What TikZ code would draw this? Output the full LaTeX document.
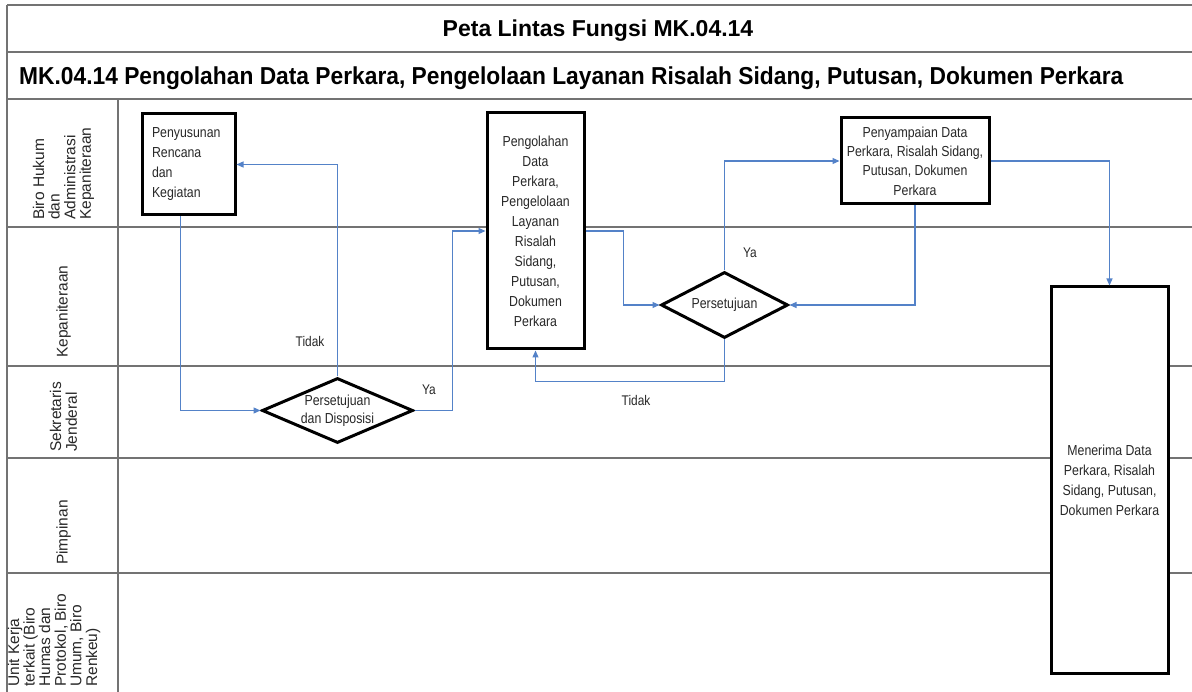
\documentclass[tikz,border=0pt]{standalone}
\usepackage{fontspec}
\setmainfont{Liberation Sans}
\newfontfamily\narfont{Liberation Sans}[FakeStretch=0.85]
\newfontfamily\subfont{Liberation Sans}[FakeStretch=0.93]
\usetikzlibrary{arrows.meta,shapes.geometric}
\definecolor{flowblue}{RGB}{84,130,200}
\definecolor{gridgray}{RGB}{115,115,115}
\definecolor{txt}{RGB}{40,40,40}
\begin{document}
\begin{tikzpicture}[x=1pt,y=-1pt,
  gridline/.style={draw=gridgray,line width=2.2pt},
  procbox/.style={draw=black,line width=3pt,fill=white,inner sep=0pt,
    text=txt,font=\narfont\fontsize{14.5}{20}\selectfont,align=center},
  dia/.style={diamond,draw=black,line width=3pt,fill=white,inner sep=0pt},
  diatext/.style={text=txt,font=\narfont\fontsize{14.5}{18}\selectfont,align=center,inner sep=0pt},
  flow/.style={draw=flowblue,line width=1.2pt,-{Triangle[length=7pt,width=6pt]}},
  flowlabel/.style={text=txt,font=\narfont\fontsize{14}{16}\selectfont,inner sep=0pt},
  lanelabel/.style={rotate=90,anchor=west,align=left,inner sep=0pt,text=txt,
    font=\fontsize{15.5}{15.6}\selectfont}
]
\useasboundingbox (0,0) rectangle (1192,692);
\fill[white] (0,0) rectangle (1192,692);
% frame and grid
\draw[gridline] (7,5) -- (1192,5);
\draw[gridline] (7,5) -- (7,692);
\foreach \yy in {52,99,227,366,458,573} \draw[gridline] (7,\yy) -- (1192,\yy);
\draw[gridline] (118,99) -- (118,692);
% titles
\node[anchor=base,inner sep=0pt,font=\bfseries\fontsize{23}{26}\selectfont] (title) at (598,37) {Peta Lintas Fungsi MK.04.14};
\node[anchor=base west,inner sep=0pt,font=\subfont\bfseries\fontsize{24.5}{28}\selectfont] (subtitle) at (19,85) {MK.04.14 Pengolahan Data Perkara, Pengelolaan Layanan Risalah Sidang, Putusan, Dokumen Perkara};
% lane labels
\node[lanelabel] (l1) at (63.5,220) {Biro Hukum\\dan\\Administrasi\\Kepaniteraan};
\node[lanelabel] (l2) at (63.5,358) {Kepaniteraan};
\node[lanelabel] (l3) at (63.5,452) {Sekretaris\\Jenderal};
\node[lanelabel] (l4) at (63.5,565) {Pimpinan};
\node[lanelabel] (l5) at (54,687) {Unit Kerja\\terkait (Biro\\Humas dan\\Protokol, Biro\\Umum, Biro\\Renkeu)};
% process boxes
\node[procbox,minimum width=93pt,minimum height=101pt,text width=73pt,align=left] (A) at (188.5,164.5) {Penyusunan\\Rencana\\dan\\Kegiatan};
\node[procbox,minimum width=97pt,minimum height=236pt] (B) at (535.5,231) {Pengolahan\\Data\\Perkara,\\Pengelolaan\\Layanan\\Risalah\\Sidang,\\Putusan,\\Dokumen\\Perkara};
\node[procbox,minimum width=148pt,minimum height=86pt,font=\narfont\fontsize{14.5}{19.3}\selectfont] (C) at (915,161) {Penyampaian Data\\Perkara, Risalah Sidang,\\Putusan, Dokumen\\Perkara};
\node[procbox,minimum width=117pt,minimum height=386pt] (E) at (1109.5,480) {Menerima Data\\Perkara, Risalah\\Sidang, Putusan,\\Dokumen Perkara};
% decisions
\node[dia,minimum width=151pt,minimum height=65pt] (d1) at (337.5,410.5) {};
\node[diatext] (d1t) at (d1) {Persetujuan\\dan Disposisi};
\node[dia,minimum width=127pt,minimum height=66pt] (d2) at (724.5,305) {};
\node[diatext] (d2t) at (d2) {Persetujuan};
% connectors
\draw[flow] ([xshift=40pt]A.south west) |- (d1.west);
\draw[flow] (d1.north) |- (A.east);
\draw[flow] (d1.east) -- ++(38,0) |- (B.west);
\draw[flow] (B.east) -- ++(38,0) |- (d2.west);
\draw[flow] (d2.north) |- (C.west);
\draw[flow] (d2.south) -- ++(0,42) -| (B.south);
\draw[flow] (C.south) |- (d2.east);
\draw[flow] (C.east) -| (E.north);
% labels
\node[flowlabel] (t1) at (310,341) {Tidak};
\node[flowlabel] (y1) at (429,390) {Ya};
\node[flowlabel] (y2) at (750,253) {Ya};
\node[flowlabel] (t2) at (636,400) {Tidak};
\end{tikzpicture}
\end{document}
